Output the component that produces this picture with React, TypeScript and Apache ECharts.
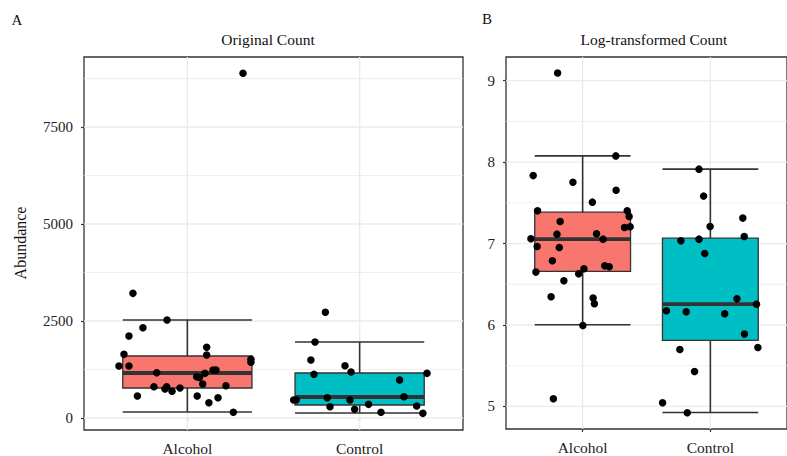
import React, { useEffect, useRef } from "react";
import * as echarts from "echarts";

// Groups on the x axis (positions 1 and 2)
const groups = ["Alcohol", "Control"];
const fills = ["#F8766D", "#00BFC4"];

// Axis ticks
const countTicks = [0, 2500, 5000, 7500];
const countMinor = [1250, 3750, 6250, 8750];
const logTicks = [5, 6, 7, 8, 9];
const logMinor = [5.5, 6.5, 7.5, 8.5];

// Box summaries: [lower whisker, Q1, median, Q3, upper whisker]
const countBoxAlcohol = [155, 773, 1160, 1598, 2526];
const countBoxControl = [129, 335, 541, 1160, 1959];
const logBoxAlcohol = [6.002, 6.657, 7.054, 7.385, 8.076];
const logBoxControl = [4.926, 5.81, 6.256, 7.066, 7.913];

// Original counts per sample, with horizontal jitter (in group units)
const countAlcohol = [8884, 3213, 2526, 2327, 2113, 1822, 1641, 1624, 1512, 1435, 1340, 1340, 1237, 1237, 1168, 1151, 1065, 1044, 876, 833, 807, 807, 773, 747, 688, 567, 567, 524, 395, 147];
const countAlcoholJitter = [0.323, -0.316, -0.118, -0.258, -0.339, 0.112, -0.368, 0.112, 0.369, 0.369, -0.397, -0.339, 0.149, 0.166, -0.178, 0.102, 0.054, 0.07, 0.089, 0.224, -0.194, -0.12, -0.043, -0.13, -0.089, -0.29, 0.057, 0.178, 0.125, 0.267];
const countControl = [2724, 1959, 1495, 1349, 1186, 1126, 1151, 979, 464, 464, 524, 464, 550, 292, 224, 352, 147, 309, 120];
const countControlJitter = [-0.199, -0.259, -0.283, -0.085, -0.05, -0.265, 0.391, 0.232, -0.383, -0.368, -0.188, -0.056, 0.257, -0.172, -0.029, 0.052, 0.124, 0.331, 0.367];

// Log-transformed counts per sample, with horizontal jitter
const logAlcohol = [9.094, 8.076, 7.834, 7.753, 7.655, 7.508, 7.401, 7.401, 7.331, 7.27, 7.196, 7.205, 7.058, 7.115, 7.119, 7.054, 6.963, 6.951, 6.788, 6.726, 6.714, 6.649, 6.69, 6.628, 6.542, 6.346, 6.33, 6.26, 5.994, 5.094];
const logAlcoholJitter = [-0.196, 0.26, -0.387, -0.076, 0.262, 0.076, -0.353, 0.349, 0.364, -0.176, 0.328, 0.372, -0.405, -0.201, 0.109, 0.16, -0.356, -0.183, -0.237, 0.173, 0.208, -0.366, 0.01, -0.031, -0.147, -0.247, 0.082, 0.092, 0.002, -0.229];
const logControl = [7.913, 7.582, 7.312, 7.209, 7.086, 7.033, 7.054, 6.877, 6.321, 6.256, 6.174, 6.162, 6.137, 5.888, 5.7, 5.724, 5.429, 5.045, 4.923];
const logControlJitter = [-0.089, -0.053, 0.254, -0.002, 0.265, -0.231, -0.089, -0.044, 0.208, 0.361, -0.344, -0.189, 0.112, 0.267, -0.239, 0.372, -0.124, -0.374, -0.181];

const FONT = "Liberation Serif";
const INK = "#333333";
const GRID_LINE = "#EBEBEB";
const BOX_WIDTH = 0.75;

const toPoints = (values: number[], jitter: number[], pos: number) =>
  values.map((v, i) => [pos + jitter[i], v]);

const boxRender = (params: any, api: any) => {
  const x = api.value(0);
  const lo = api.coord([x, api.value(1)]);
  const q1 = api.coord([x, api.value(2)]);
  const med = api.coord([x, api.value(3)]);
  const q3 = api.coord([x, api.value(4)]);
  const hi = api.coord([x, api.value(5)]);
  const half = api.size([BOX_WIDTH, 0])[0] / 2;
  const cx = med[0];
  const whisker = { stroke: INK, lineWidth: 1.6 };
  return {
    type: "group",
    children: [
      { type: "line", shape: { x1: cx, y1: hi[1], x2: cx, y2: lo[1] }, style: whisker },
      { type: "line", shape: { x1: cx - half, y1: hi[1], x2: cx + half, y2: hi[1] }, style: whisker },
      { type: "line", shape: { x1: cx - half, y1: lo[1], x2: cx + half, y2: lo[1] }, style: whisker },
      {
        type: "rect",
        shape: { x: cx - half, y: q3[1], width: half * 2, height: q1[1] - q3[1] },
        style: { fill: fills[params.dataIndex], stroke: INK, lineWidth: 1.3 },
      },
      { type: "line", shape: { x1: cx - half, y1: med[1], x2: cx + half, y2: med[1] }, style: { stroke: INK, lineWidth: 3.8 } },
    ],
  };
};

// Background grid: horizontal lines at y values, vertical lines at group positions
const gridRender = (params: any, api: any) => {
  const cs = params.coordSys;
  const kind = api.value(0);
  const v = api.value(1);
  if (kind === 0 || kind === 2) {
    const y = api.coord([1, v])[1];
    return {
      type: "line",
      shape: { x1: cs.x, y1: y, x2: cs.x + cs.width, y2: y },
      style: { stroke: GRID_LINE, lineWidth: kind === 0 ? 1.3 : 0.8 },
    };
  }
  const x = api.coord([v, 0])[0];
  return {
    type: "line",
    shape: { x1: x, y1: cs.y, x2: x, y2: cs.y + cs.height },
    style: { stroke: GRID_LINE, lineWidth: 1.3 },
  };
};

const gridData = (major: number[], minor: number[], mid: number) => [
  ...minor.map((v) => [2, v]),
  ...major.map((v) => [0, v]),
  [1, 1, mid],
  [1, 2, mid],
];

const xAxisFor = (gridIndex: number) => ({
  type: "value",
  gridIndex,
  min: 0.4,
  max: 2.6,
  axisLine: { show: false },
  splitLine: { show: false },
  axisTick: { show: true, length: 3, customValues: [1, 2], lineStyle: { color: INK, width: 1.2 } },
  axisLabel: {
    customValues: [1, 2],
    formatter: (v: number) => groups[Math.round(v) - 1] ?? "",
    fontFamily: FONT,
    fontSize: 15.5,
    color: "#222",
    margin: 10,
  },
});

const yAxisFor = (gridIndex: number, min: number, max: number, ticks: number[]) => ({
  type: "value",
  gridIndex,
  min,
  max,
  axisLine: { show: false },
  splitLine: { show: false },
  axisTick: { show: true, length: 3, customValues: ticks, lineStyle: { color: INK, width: 1.2 } },
  axisLabel: {
    customValues: ticks,
    formatter: (v: number) => String(v),
    fontFamily: FONT,
    fontSize: 15,
    color: "#222",
    margin: 11,
  },
});

const text = (t: string, x: number, y: number, size: number, extra: any = {}) => ({
  type: "text",
  x,
  y,
  ...extra,
  style: { text: t, fill: "#111", font: `${size}px '${FONT}', serif`, textAlign: "center", textVerticalAlign: "middle" },
});

export default function App() {
  const ref = useRef<HTMLDivElement>(null);

  useEffect(() => {
    if (!ref.current) return;
    const chart = echarts.init(ref.current, undefined, { renderer: "svg" });
    chart.setOption({
      animation: false,
      backgroundColor: "#ffffff",
      textStyle: { fontFamily: FONT },
      grid: [
        { left: 84, top: 57, width: 379, height: 373, show: true, borderColor: INK, borderWidth: 1.3, backgroundColor: "transparent" },
        { left: 506, top: 57, width: 288, height: 372, show: true, borderColor: INK, borderWidth: 1.3, backgroundColor: "transparent" },
      ],
      xAxis: [xAxisFor(0), xAxisFor(1)],
      yAxis: [yAxisFor(0, -309, 9304, countTicks), yAxisFor(1, 4.723, 9.29, logTicks)],
      graphic: [
        text("A", 17, 20, 15),
        text("B", 487, 19, 15),
        text("Original Count", 268, 39, 15.5),
        text("Log-transformed Count", 654, 39, 15.5),
        text("Abundance", 20, 243, 16, { rotation: Math.PI / 2 }),
      ],
      series: [
        {
          type: "custom",
          xAxisIndex: 0,
          yAxisIndex: 0,
          z: 1,
          silent: true,
          renderItem: gridRender,
          encode: { x: 1, y: 1 },
          data: gridData(countTicks, countMinor, 4000),
        },
        {
          type: "custom",
          xAxisIndex: 1,
          yAxisIndex: 1,
          z: 1,
          silent: true,
          renderItem: gridRender,
          encode: { x: 1, y: 1 },
          data: gridData(logTicks, logMinor, 7),
        },
        {
          type: "custom",
          xAxisIndex: 0,
          yAxisIndex: 0,
          z: 2,
          renderItem: boxRender,
          encode: { x: 0, y: [1, 2, 3, 4, 5] },
          data: [
            [1, ...countBoxAlcohol],
            [2, ...countBoxControl],
          ],
        },
        {
          type: "custom",
          xAxisIndex: 1,
          yAxisIndex: 1,
          z: 2,
          renderItem: boxRender,
          encode: { x: 0, y: [1, 2, 3, 4, 5] },
          data: [
            [1, ...logBoxAlcohol],
            [2, ...logBoxControl],
          ],
        },
        {
          type: "scatter",
          xAxisIndex: 0,
          yAxisIndex: 0,
          z: 3,
          symbolSize: 7.5,
          itemStyle: { color: "#000000", opacity: 1 },
          data: [...toPoints(countAlcohol, countAlcoholJitter, 1), ...toPoints(countControl, countControlJitter, 2)],
        },
        {
          type: "scatter",
          xAxisIndex: 1,
          yAxisIndex: 1,
          z: 3,
          symbolSize: 7.5,
          itemStyle: { color: "#000000", opacity: 1 },
          data: [...toPoints(logAlcohol, logAlcoholJitter, 1), ...toPoints(logControl, logControlJitter, 2)],
        },
      ],
    });
    return () => chart.dispose();
  }, []);

  return (
    <div
      ref={ref}
      style={{ position: "fixed", left: 0, top: 0, width: 787, height: 456, overflow: "hidden", background: "#fff" }}
    />
  );
}
